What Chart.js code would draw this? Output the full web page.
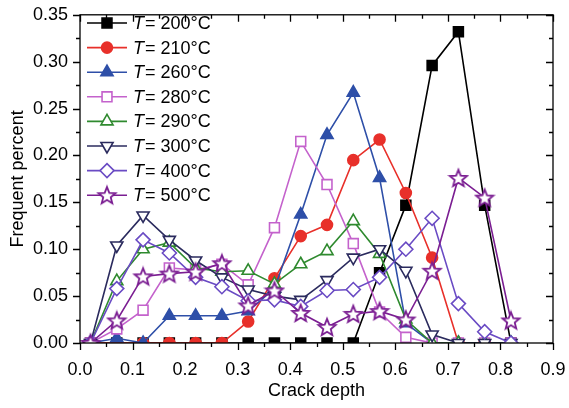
<!DOCTYPE html>
<html>
<head>
<meta charset="utf-8">
<script src="https://cdn.jsdelivr.net/npm/chart.js@4.4.1/dist/chart.umd.min.js"></script>
<style>
  html, body { margin: 0; padding: 0; background: #fff; }
  #wrap { width: 569px; height: 408px; }
</style>
</head>
<body>
<div id="wrap"><canvas id="crackChart" width="569" height="408"></canvas></div>
<script>
// crack depth bins
const depth = [0.02, 0.07, 0.12, 0.17, 0.22, 0.27, 0.32, 0.37, 0.42, 0.47, 0.52, 0.57, 0.62, 0.67, 0.72, 0.77, 0.82];

// frequent percent per temperature
const t200 = [0, 0, 0, 0, 0, 0, 0, 0, 0, 0, 0, 0.075, 0.147, 0.296, 0.332, 0.147, 0];
const t210 = [0, 0, 0, 0, 0, 0, 0.023, 0.069, 0.114, 0.126, 0.195, 0.217, 0.160, 0.091, 0, 0, 0];
const t260 = [0, 0.005, 0, 0.029, 0.029, 0.029, 0.034, 0.058, 0.137, 0.222, 0.267, 0.176, 0.021, 0, 0, 0, 0];
const t280 = [0, 0.015, 0.035, 0.080, 0.078, 0.084, 0.062, 0.123, 0.215, 0.169, 0.106, 0.033, 0.006, 0, 0, 0, 0];
const t290 = [0, 0.066, 0.100, 0.107, 0.080, 0.076, 0.077, 0.063, 0.084, 0.098, 0.130, 0.095, 0.025, 0, 0, 0, 0];
const t300 = [0, 0.104, 0.136, 0.110, 0.088, 0.070, 0.057, 0.050, 0.046, 0.067, 0.091, 0.100, 0.077, 0.009, 0, 0, 0];
const t400 = [0, 0.058, 0.110, 0.096, 0.070, 0.060, 0.045, 0.046, 0.039, 0.056, 0.057, 0.070, 0.100, 0.133, 0.042, 0.012, 0];
const t500 = [0, 0.024, 0.071, 0.074, 0.076, 0.085, 0.040, 0.056, 0.032, 0.017, 0.031, 0.034, 0.025, 0.077, 0.176, 0.155, 0.024];

const temps = ['200', '210', '260', '280', '290', '300', '400', '500'];
const xTicks = [0, 0.1, 0.2, 0.3, 0.4, 0.5, 0.6, 0.7, 0.8, 0.9];
const yTicks = [0, 0.05, 0.10, 0.15, 0.20, 0.25, 0.30, 0.35];

const FONT = '"Liberation Sans", Arial, sans-serif';

// five point star marker (Chart.js 'star' is an asterisk)
function makeStar(color) {
  const c = document.createElement('canvas');
  c.width = 22; c.height = 22;
  const g = c.getContext('2d');
  g.beginPath();
  for (let i = 0; i < 10; i++) {
    const r = i % 2 === 0 ? 9 : 3.9;
    const a = -Math.PI / 2 + i * Math.PI / 5;
    const px = 11 + r * Math.cos(a), py = 11.8 + r * Math.sin(a);
    if (i === 0) g.moveTo(px, py); else g.lineTo(px, py);
  }
  g.closePath();
  g.fillStyle = '#fff';
  g.fill();
  g.lineWidth = 1.8;
  g.strokeStyle = color;
  g.stroke();
  return c;
}

const seriesStyle = [
  { vals: t200, color: '#000000', fill: '#000000', style: 'rect', r: 7, rot: 0 },
  { vals: t210, color: '#e8302a', fill: '#e8302a', style: 'circle', r: 5.5, rot: 0 },
  { vals: t260, color: '#2e4fa8', fill: '#2e4fa8', style: 'triangle', r: 7, rot: 0 },
  { vals: t280, color: '#c462cc', fill: '#ffffff', style: 'rect', r: 7, rot: 0 },
  { vals: t290, color: '#2f8a2f', fill: '#ffffff', style: 'triangle', r: 7, rot: 0 },
  { vals: t300, color: '#2b2b5e', fill: '#ffffff', style: 'triangle', r: 7, rot: 180 },
  { vals: t400, color: '#6a4bc4', fill: '#ffffff', style: 'rectRot', r: 7, rot: 0 },
  { vals: t500, color: '#7b1e92', fill: '#ffffff', style: null, r: 9, rot: 0 }
];

const datasets = seriesStyle.map((s, i) => {
  const ps = s.style || makeStar(s.color);
  return {
    label: 'T = ' + temps[i] + '°C',
    data: depth.map((d, k) => ({ x: d, y: s.vals[k] })),
    borderColor: s.color,
    backgroundColor: s.fill,
    borderWidth: 1.6,
    pointStyle: ps,
    pointRadius: s.r,
    pointRotation: s.rot,
    pointBorderWidth: 1.6,
    pointBackgroundColor: s.fill,
    pointBorderColor: s.color,
    tension: 0,
    order: seriesStyle.length - i   // later series drawn on top
  };
});

// ticks, frame and legend drawn by hand
const axisDecor = {
  id: 'axisDecor',
  afterDraw(chart) {
    const ctx = chart.ctx;
    const xs = chart.scales.x, ys = chart.scales.y;
    const a = chart.chartArea;
    ctx.save();
    ctx.strokeStyle = '#000';
    ctx.lineWidth = 1.3;
    ctx.strokeRect(a.left, a.top, a.right - a.left, a.bottom - a.top);
    ctx.beginPath();
    for (let v = 0; v <= 0.9001; v += 0.05) {
      const px = Math.round(xs.getPixelForValue(v)) + 0.5;
      const major = Math.abs(v * 10 - Math.round(v * 10)) < 1e-6;
      const len = major ? 7 : 4;
      ctx.moveTo(px, a.bottom); ctx.lineTo(px, a.bottom + len);
      ctx.moveTo(px, a.top); ctx.lineTo(px, a.top + len);
    }
    for (let v = 0; v <= 0.3501; v += 0.025) {
      const py = Math.round(ys.getPixelForValue(v)) + 0.5;
      const major = Math.abs(v * 20 - Math.round(v * 20)) < 1e-6;
      const len = major ? 7 : 4;
      ctx.moveTo(a.left, py); ctx.lineTo(a.left - len, py);
      ctx.moveTo(a.right, py); ctx.lineTo(a.right - len, py);
    }
    ctx.stroke();

    // legend
    const lx0 = 87, lx1 = 127, ly0 = 23, step = 24.6;
    ctx.textBaseline = 'middle';
    chart.data.datasets.forEach((ds, i) => {
      const y = ly0 + i * step;
      ctx.strokeStyle = ds.borderColor;
      ctx.lineWidth = 1.6;
      ctx.beginPath();
      ctx.moveTo(lx0, y); ctx.lineTo(lx1, y);
      ctx.stroke();
      ctx.fillStyle = ds.pointBackgroundColor;
      ctx.strokeStyle = ds.pointBorderColor;
      Chart.helpers.drawPoint(ctx, { pointStyle: ds.pointStyle, radius: ds.pointRadius, rotation: ds.pointRotation, borderWidth: 1.6 }, (lx0 + lx1) / 2, y);
      ctx.fillStyle = '#000';
      ctx.font = 'italic 18px ' + FONT;
      ctx.fillText('T', 133, y + 1);
      const tw = ctx.measureText('T').width;
      ctx.font = '18px ' + FONT;
      ctx.fillText('= ' + temps[i] + '°C', 133 + tw + 1, y + 1);
    });
    ctx.restore();
  }
};

const config = {
  type: 'line',
  data: { datasets: datasets },
  options: {
    responsive: false,
    animation: false,
    layout: { padding: { top: 8, right: 16, left: 0, bottom: 0 } },
    plugins: { legend: { display: false }, tooltip: { enabled: false } },
    scales: {
      x: {
        type: 'linear',
        min: 0, max: 0.9,
        afterBuildTicks: s => { s.ticks = xTicks.map(v => ({ value: v })); },
        afterFit: s => { s.height = 65; s.paddingRight = 0; s.paddingLeft = 0; },
        grid: { display: false },
        border: { display: false },
        ticks: {
          color: '#000',
          font: { family: FONT, size: 18 },
          padding: 8,
          maxRotation: 0,
          callback: v => v.toFixed(1)
        },
        title: { display: true, text: 'Crack depth', color: '#000', font: { family: FONT, size: 18 }, padding: { top: 0, bottom: 6 } }
      },
      y: {
        min: 0, max: 0.35,
        afterBuildTicks: s => { s.ticks = yTicks.map(v => ({ value: v })); },
        afterFit: s => { s.width = 80; },
        grid: { display: false },
        border: { display: false },
        ticks: {
          color: '#000',
          font: { family: FONT, size: 18 },
          padding: 4,
          callback: v => v.toFixed(2)
        },
        title: { display: true, text: 'Frequent percent', color: '#000', font: { family: FONT, size: 18 }, padding: { top: 7, bottom: 0 } }
      }
    }
  },
  plugins: [axisDecor]
};

new Chart(document.getElementById('crackChart').getContext('2d'), config);
</script>
</body>
</html>
